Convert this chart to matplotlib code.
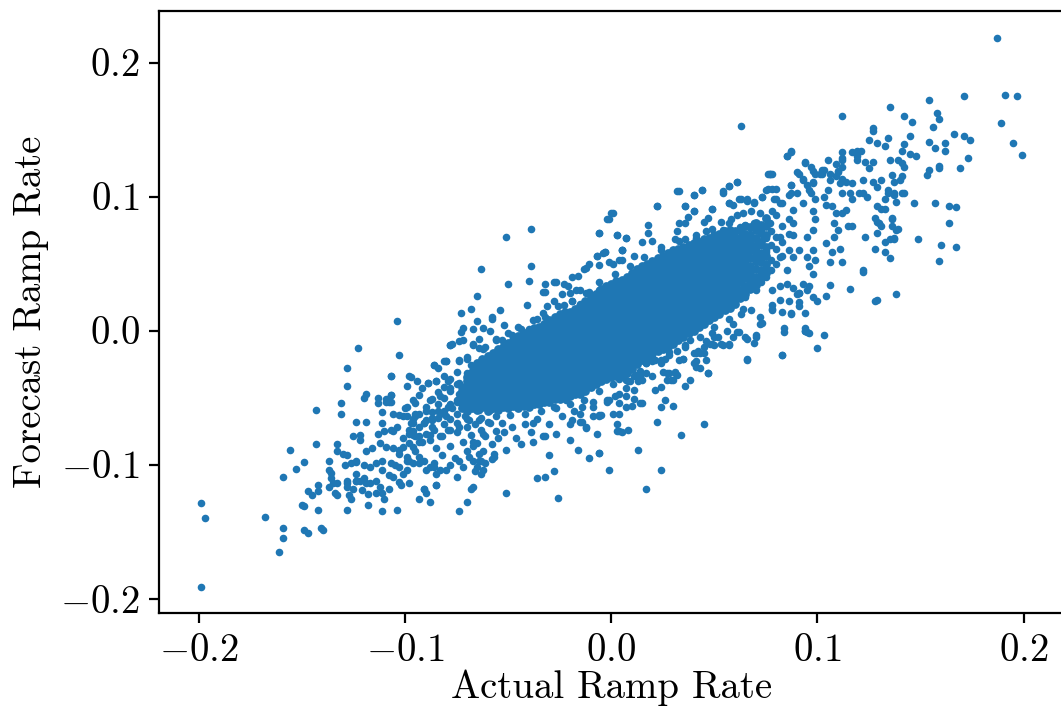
import numpy as np
import matplotlib
matplotlib.use("Agg")
import matplotlib.pyplot as plt

# scattered points (actual, forecast)
outlier_pts = [
    (-0.199, -0.129), (-0.197, -0.140), (-0.199, -0.191), (-0.168, -0.139), (-0.159, -0.147),
    (-0.159, -0.155), (-0.161, -0.165), (-0.149, -0.149), (-0.147, -0.151), (-0.141, -0.147),
    (-0.140, -0.149), (-0.142, -0.134), (-0.150, -0.130), (-0.149, -0.131), (-0.147, -0.120),
    (-0.145, -0.123), (-0.142, -0.120), (-0.142, -0.115), (-0.159, -0.109), (-0.153, -0.103),
    (-0.149, -0.098), (-0.156, -0.089), (-0.143, -0.085), (-0.143, -0.059), (-0.137, -0.097),
    (-0.136, -0.106), (-0.136, -0.110), (-0.133, -0.114), (-0.137, -0.117), (-0.134, -0.121),
    (-0.133, -0.123), (-0.128, -0.134), (-0.128, -0.114), (-0.127, -0.123), (-0.126, -0.126),
    (-0.125, -0.118), (-0.121, -0.119), (-0.118, -0.130), (-0.118, -0.122), (-0.111, -0.135),
    (-0.104, -0.134), (-0.114, -0.121), (-0.111, -0.121), (-0.110, -0.126), (-0.108, -0.118),
    (-0.103, -0.113), (-0.102, -0.115), (-0.133, -0.085), (-0.133, -0.090), (-0.130, -0.092),
    (-0.128, -0.093), (-0.129, -0.100), (-0.126, -0.099), (-0.124, -0.098), (-0.128, -0.112),
    (-0.124, -0.112), (-0.120, -0.110), (-0.125, -0.079), (-0.122, -0.078), (-0.122, -0.082),
    (-0.131, -0.054), (-0.131, -0.062), (-0.128, -0.041), (-0.128, -0.028), (-0.123, -0.013),
    (-0.124, -0.068), (-0.119, -0.068), (-0.120, -0.050), (-0.119, -0.047), (-0.113, -0.050),
    (-0.113, -0.054), (-0.109, -0.053), (-0.107, -0.048), (-0.107, -0.053), (-0.104, 0.007),
    (-0.103, -0.018), (-0.107, -0.034), (-0.097, -0.035), (-0.099, -0.041), (-0.113, -0.077),
    (-0.110, -0.075), (-0.107, -0.074), (-0.104, -0.072), (-0.119, -0.090), (-0.116, -0.088),
    (-0.112, -0.084), (-0.109, -0.087), (-0.106, -0.088), (-0.124, -0.097), (-0.120, -0.100),
    (-0.117, -0.102), (-0.114, -0.099), (-0.111, -0.097), (-0.107, -0.099), (-0.105, -0.100),
    (-0.124, -0.107), (-0.122, -0.112), (-0.117, -0.114), (-0.112, -0.117), (-0.108, -0.108),
    (-0.103, -0.102), (-0.099, -0.104), (-0.096, -0.099), (-0.099, -0.094), (-0.101, -0.087),
    (-0.098, -0.084), (-0.095, -0.079), (-0.099, -0.064), (-0.096, -0.069), (-0.095, -0.062),
    (-0.098, -0.077), (-0.101, -0.080), (-0.093, -0.126), (-0.088, -0.128), (-0.091, -0.118),
    (-0.090, -0.121), (-0.091, -0.097), (-0.086, -0.102), (-0.085, -0.107), (-0.085, -0.115),
    (-0.090, -0.104), (-0.094, -0.038), (-0.089, -0.039), (-0.085, -0.038), (-0.086, -0.026),
    (-0.084, -0.028), (-0.081, -0.023), (-0.078, -0.011), (-0.074, -0.023), (-0.074, -0.135),
    (-0.070, -0.128), (-0.068, -0.118), (-0.073, 0.013), (-0.068, 0.016), (-0.072, 0.002),
    (-0.067, 0.001), (-0.072, -0.007), (-0.066, -0.105), (-0.062, -0.104), (-0.067, -0.097),
    (-0.063, -0.097), (-0.058, -0.096), (-0.051, -0.121), (-0.036, -0.110), (-0.032, -0.109),
    (-0.028, -0.105), (-0.026, -0.125), (-0.011, -0.095), (-0.016, -0.089), (-0.020, -0.082),
    (-0.030, -0.093), (-0.044, -0.085), (-0.038, -0.069), (-0.033, -0.079), (-0.027, -0.077),
    (-0.007, -0.077), (-0.009, -0.064), (-0.014, -0.068), (-0.054, 0.015), (-0.041, 0.019),
    (-0.048, -0.003), (-0.044, 0.001), (-0.040, 0.001),
    (-0.039, 0.076), (-0.051, 0.070), (-0.063, 0.046), (-0.039, 0.048), (-0.040, 0.037),
    (-0.050, 0.035), (-0.065, 0.026), (-0.058, 0.010), (-0.052, 0.004), (-0.032, 0.035),
    (-0.033, 0.029), (-0.027, 0.036), (-0.023, 0.035), (-0.021, 0.033), (-0.019, 0.040),
    (-0.016, 0.041), (-0.013, 0.046), (-0.011, 0.050), (-0.007, 0.056), (-0.006, 0.073),
    (-0.031, 0.018), (-0.028, 0.022), (-0.023, 0.019), (-0.024, 0.027), (-0.020, 0.028),
    (-0.017, 0.030),
    (0.187, 0.218), (0.191, 0.176), (0.197, 0.175), (0.189, 0.155), (0.195, 0.140),
    (0.199, 0.131), (0.171, 0.175), (0.154, 0.172), (0.135, 0.167), (0.158, 0.162),
    (0.159, 0.158), (0.156, 0.152), (0.142, 0.160), (0.146, 0.156), (0.166, 0.147),
    (0.171, 0.145), (0.174, 0.142), (0.173, 0.129), (0.169, 0.121), (0.154, 0.141),
    (0.157, 0.136), (0.162, 0.140), (0.162, 0.134), (0.159, 0.123), (0.159, 0.121),
    (0.154, 0.120), (0.153, 0.116), (0.157, 0.095), (0.164, 0.093), (0.167, 0.092),
    (0.164, 0.080), (0.147, 0.095), (0.149, 0.068), (0.160, 0.064), (0.167, 0.062),
    (0.159, 0.052), (0.145, 0.145), (0.142, 0.139), (0.141, 0.134), (0.145, 0.132),
    (0.148, 0.130), (0.127, 0.151), (0.127, 0.149), (0.125, 0.142), (0.129, 0.140),
    (0.133, 0.138), (0.134, 0.144), (0.112, 0.160), (0.063, 0.153), (0.135, 0.127),
    (0.139, 0.127), (0.141, 0.125), (0.142, 0.122), (0.136, 0.116), (0.137, 0.111),
    (0.141, 0.115), (0.137, 0.103), (0.141, 0.103), (0.138, 0.096), (0.133, 0.098),
    (0.134, 0.103), (0.131, 0.091), (0.129, 0.081), (0.131, 0.078), (0.136, 0.083),
    (0.136, 0.078), (0.139, 0.076), (0.135, 0.068), (0.137, 0.068), (0.133, 0.066),
    (0.128, 0.061), (0.133, 0.059), (0.135, 0.054), (0.128, 0.022), (0.138, 0.027),
    (0.123, 0.070), (0.122, 0.044), (0.116, 0.031),
    (0.112, 0.133), (0.117, 0.133), (0.119, 0.134), (0.121, 0.134), (0.112, 0.127),
    (0.119, 0.127), (0.123, 0.126), (0.127, 0.126), (0.125, 0.121), (0.105, 0.127),
    (0.109, 0.124), (0.110, 0.119), (0.112, 0.122), (0.094, 0.126), (0.090, 0.118),
    (0.098, 0.119), (0.102, 0.120), (0.101, 0.117), (0.087, 0.134), (0.085, 0.130),
    (0.078, 0.117), (0.076, 0.117), (0.073, 0.100), (0.075, 0.105), (0.078, 0.106),
    (0.080, 0.098), (0.083, 0.095), (0.087, 0.103), (0.091, 0.117), (0.093, 0.113),
    (0.098, 0.110), (0.102, 0.117), (0.106, 0.117), (0.109, 0.115), (0.111, 0.110),
    (0.114, 0.111), (0.117, 0.110), (0.112, 0.103), (0.116, 0.103), (0.117, 0.098),
    (0.122, 0.103),
    (0.033, 0.104), (0.040, 0.101), (0.044, 0.105), (0.057, 0.108), (0.054, 0.103),
    (0.061, 0.111), (0.057, 0.095), (0.062, 0.098), (0.066, 0.097), (0.069, 0.095),
    (0.022, 0.093), (0.001, 0.088), (-0.001, 0.083), (0.003, 0.071), (0.007, 0.069),
    (-0.003, 0.059), (0.005, 0.060), (0.036, 0.093), (0.040, 0.089), (0.049, 0.091),
    (0.098, 0.042), (0.106, 0.034), (0.100, 0.022), (0.104, 0.026), (0.093, 0.035),
    (0.096, 0.033), (0.091, 0.028), (0.091, 0.021), (0.094, 0.013), (0.087, 0.012),
    (0.083, 0.014), (0.078, 0.016), (0.073, 0.006), (0.084, 0.002), (0.094, 0.002),
    (0.084, -0.001), (0.094, 0.000), (0.096, -0.002), (0.103, -0.003), (0.100, -0.013),
    (0.083, -0.018), (0.066, -0.022), (0.069, -0.009), (0.070, -0.005), (0.065, -0.005),
    (0.061, -0.001), (0.057, -0.011), (0.053, -0.010), (0.050, -0.011), (0.048, -0.010),
    (0.043, -0.017), (0.040, -0.017), (0.041, -0.023), (0.043, -0.028), (0.047, -0.032),
    (0.035, -0.021), (0.036, -0.041), (0.030, -0.056), (0.026, -0.052), (0.024, -0.057),
    (0.029, -0.037), (0.031, -0.032), (0.021, -0.044), (0.022, -0.068), (0.045, -0.070),
    (0.034, -0.078), (0.013, -0.089), (0.024, -0.104), (0.017, -0.118), (-0.001, -0.104),
    (-0.006, -0.091), (0.003, -0.070), (0.004, -0.062), (0.005, -0.076), (0.003, -0.075),
    (0.010, -0.056), (0.015, -0.054), (0.015, -0.037), (0.013, -0.038), (0.009, -0.038),
    (-0.002, -0.053), (-0.006, -0.063), (0.020, -0.023), (0.026, -0.021), (0.032, -0.015),
    (0.038, -0.007), (0.025, -0.031), (0.028, -0.032), (0.032, -0.033), (0.007, -0.043),
    (0.007, -0.049), (0.011, -0.051), (0.002, -0.049), (0.004, -0.036), (0.017, -0.032),
    (0.012, -0.033),
    (0.119, 0.130), (0.112, 0.129), (0.110, 0.118), (0.112, 0.113), (0.106, 0.112),
    (0.105, 0.105), (0.103, 0.100), (0.098, 0.111), (0.097, 0.122), (0.103, 0.120),
    (0.087, 0.109), (0.086, 0.101), (0.077, 0.117), (0.093, 0.112), (0.096, 0.105),
    (0.099, 0.098), (0.104, 0.094), (0.107, 0.093), (0.109, 0.088), (0.114, 0.090),
    (0.120, 0.103), (0.124, 0.100), (0.122, 0.112), (0.127, 0.111), (0.129, 0.107),
    (0.131, 0.112), (0.140, 0.112), (0.142, 0.103), (0.137, 0.101), (0.134, 0.105),
    (0.133, 0.091), (0.129, 0.093), (0.128, 0.084), (0.130, 0.080), (0.129, 0.073),
    (0.137, 0.069), (0.136, 0.084), (0.138, 0.075), (0.117, 0.078), (0.115, 0.078),
    (0.112, 0.088), (0.110, 0.075), (0.108, 0.080), (0.108, 0.070), (0.104, 0.065),
    (0.107, 0.059), (0.111, 0.061), (0.106, 0.051), (0.112, 0.051), (0.090, 0.027),
    (0.122, 0.045), (0.129, 0.023),
    (-0.032, 0.029), (-0.028, 0.036), (-0.004, 0.058), (-0.001, 0.051), (0.004, 0.053),
    (0.005, 0.060), (-0.015, 0.030), (-0.011, 0.029), (-0.006, 0.030), (-0.019, 0.022),
    (-0.015, 0.020), (-0.009, 0.023),
    (-0.065, 0.007), (-0.062, 0.002), (-0.058, 0.009), (-0.059, 0.000), (-0.064, -0.006),
    (-0.073, -0.001), (-0.077, -0.010), (-0.074, -0.008), (-0.067, -0.011), (-0.064, -0.013),
    (-0.061, -0.012), (-0.056, -0.007), (-0.053, -0.007), (-0.036, -0.002), (-0.032, 0.000),
    (-0.032, 0.010), (-0.036, 0.009),
    (-0.092, -0.043), (-0.080, -0.023), (-0.070, -0.021), (-0.079, -0.038), (-0.078, -0.043),
    (-0.074, -0.047), (-0.069, -0.039), (-0.083, -0.049), (-0.088, -0.052), (-0.095, -0.054),
    (-0.100, -0.058), (-0.106, -0.062), (-0.109, -0.051), (-0.111, -0.069), (-0.106, -0.075),
    (-0.101, -0.064), (-0.097, -0.069), (-0.096, -0.078), (-0.091, -0.069), (-0.086, -0.074),
    (-0.082, -0.079), (-0.079, -0.074), (-0.075, -0.069), (-0.071, -0.064), (-0.067, -0.057),
    (-0.064, -0.067), (-0.059, -0.059), (-0.072, -0.083), (-0.065, -0.084), (-0.061, -0.079),
    (-0.056, -0.075), (-0.053, -0.069), (-0.103, -0.089), (-0.099, -0.097), (-0.093, -0.094),
    (-0.086, -0.099), (-0.080, -0.104), (-0.072, -0.102), (-0.064, -0.097), (-0.057, -0.092),
    (-0.051, -0.089), (-0.038, -0.083), (-0.032, -0.079),
    (-0.006, -0.091), (0.004, -0.075), (0.008, -0.074), (-0.015, -0.068), (-0.012, -0.073),
    (-0.005, -0.063), (-0.001, -0.052), (0.004, -0.054), (-0.014, -0.057), (-0.009, -0.053),
    (-0.090, -0.060), (-0.087, -0.065), (-0.084, -0.060), (-0.080, -0.064), (-0.077, -0.058),
    (-0.075, -0.076), (-0.070, -0.072), (-0.068, -0.078), (-0.066, -0.070), (-0.063, -0.074),
    (-0.060, -0.068), (-0.058, -0.085), (-0.055, -0.080), (-0.052, -0.076), (-0.048, -0.072),
    (-0.046, -0.080), (-0.042, -0.070), (-0.039, -0.076), (-0.036, -0.066), (-0.030, -0.070),
    (-0.024, -0.064), (-0.020, -0.070), (-0.018, -0.060), (-0.085, -0.088), (-0.082, -0.093),
    (-0.078, -0.086), (-0.076, -0.095), (-0.070, -0.090), (-0.067, -0.086), (-0.062, -0.090),
    (-0.092, -0.083), (-0.088, -0.078), (-0.095, -0.090),
    (0.000, 0.088), (-0.002, 0.083), (-0.006, 0.073), (0.003, 0.071), (0.007, 0.069),
    (0.005, 0.060), (-0.007, 0.056), (-0.003, 0.059), (-0.012, 0.047), (-0.006, 0.049),
    (0.001, 0.050), (0.005, 0.053), (0.011, 0.056), (0.015, 0.066), (0.018, 0.079),
    (0.018, 0.073), (0.020, 0.067), (0.024, 0.060), (0.022, 0.093), (0.032, 0.104),
    (0.040, 0.101), (0.044, 0.105), (0.036, 0.093), (0.040, 0.089), (0.037, 0.085),
    (0.033, 0.080), (0.036, 0.080), (0.032, 0.074), (0.031, 0.068), (0.036, 0.068),
    (0.041, 0.069), (0.045, 0.081), (0.047, 0.084), (0.049, 0.091), (0.054, 0.104),
    (0.057, 0.108), (0.061, 0.111), (0.059, 0.094), (0.057, 0.095), (0.063, 0.098),
    (0.066, 0.098), (0.069, 0.096), (0.068, 0.089), (0.061, 0.086), (0.064, 0.088),
    (0.058, 0.083), (0.054, 0.075), (0.051, 0.070), (0.046, 0.074), (0.053, 0.081),
    (0.073, 0.100), (0.076, 0.106), (0.080, 0.106), (0.077, 0.117), (0.085, 0.130),
    (0.087, 0.133), (0.094, 0.125), (0.087, 0.109), (0.090, 0.103), (0.095, 0.109),
    (0.099, 0.117), (0.097, 0.103), (0.079, 0.098), (0.082, 0.095), (0.088, 0.090),
    (0.093, 0.095), (0.098, 0.089), (0.099, 0.083), (0.098, 0.075), (0.095, 0.070),
    (0.088, 0.071), (0.082, 0.070), (0.078, 0.089), (0.072, 0.088), (0.069, 0.080),
    (0.077, 0.080), (0.074, 0.070), (0.088, 0.080), (0.091, 0.060), (0.095, 0.055),
    (0.098, 0.060), (0.099, 0.053), (0.096, 0.048), (0.088, 0.055), (0.085, 0.045),
    (0.082, 0.055), (0.075, 0.060), (0.072, 0.055),
    (0.098, 0.025), (0.095, 0.030), (0.091, 0.028), (0.088, 0.032), (0.085, 0.035),
    (0.082, 0.033), (0.078, 0.030), (0.091, 0.018), (0.086, 0.022), (0.082, 0.023),
    (0.078, 0.015), (0.072, 0.010), (0.068, 0.015), (0.063, 0.012), (0.059, 0.005),
    (0.056, 0.000), (0.052, -0.005), (0.049, -0.010), (0.045, -0.017), (0.041, -0.027),
    (0.038, -0.037), (0.047, -0.032), (0.054, -0.011), (0.059, -0.005), (0.062, -0.001),
    (0.066, -0.006), (0.070, -0.003), (0.072, 0.005), (0.078, 0.019), (0.087, 0.013),
    (0.094, 0.000), (0.095, -0.001), (0.083, -0.018), (0.066, -0.021), (0.057, -0.010),
    (0.050, -0.005), (0.046, -0.008), (0.042, -0.015), (0.035, -0.021), (0.031, -0.031),
    (0.027, -0.037), (0.024, -0.024), (0.020, -0.018), (0.017, -0.024), (0.014, -0.034),
    (0.007, -0.037),
    (-0.111, -0.061), (-0.108, -0.053), (-0.107, -0.048), (-0.103, -0.063), (-0.099, -0.057),
    (-0.096, -0.052), (-0.093, -0.048), (-0.089, -0.039), (-0.085, -0.038), (-0.081, -0.034),
    (-0.086, -0.026), (-0.080, -0.023), (-0.074, -0.022), (-0.070, -0.020), (-0.078, -0.011),
    (-0.067, -0.010), (-0.098, -0.034), (-0.107, -0.034), (-0.095, -0.064), (-0.091, -0.069),
    (-0.087, -0.067), (-0.083, -0.062), (-0.079, -0.057), (-0.075, -0.053), (-0.070, -0.049),
    (-0.098, -0.074), (-0.093, -0.079), (-0.088, -0.082), (-0.083, -0.079), (-0.078, -0.074),
    (-0.074, -0.072), (-0.103, -0.092), (-0.098, -0.097), (-0.093, -0.099), (-0.088, -0.102),
    (-0.083, -0.104), (-0.078, -0.100), (-0.074, -0.097), (-0.069, -0.094), (-0.064, -0.092),
    (-0.111, -0.104), (-0.106, -0.109), (-0.101, -0.107), (-0.114, -0.112), (-0.119, -0.114),
    (-0.124, -0.112), (-0.128, -0.117), (-0.135, -0.114), (-0.137, -0.104), (-0.098, -0.114),
    (-0.091, -0.118), (-0.085, -0.115), (-0.067, -0.117), (-0.075, -0.109), (-0.065, -0.102),
    (-0.061, -0.099), (-0.063, -0.107), (-0.057, -0.094), (-0.067, -0.083), (-0.062, -0.077),
    (-0.059, -0.069), (-0.069, -0.067), (-0.064, -0.059), (-0.065, -0.047), (-0.061, -0.037),
    (-0.074, -0.039), (-0.070, -0.032), (-0.064, -0.027), (-0.057, -0.020),
    (0.004, -0.027), (0.011, -0.034), (0.017, -0.024), (0.020, -0.017), (0.024, -0.022),
    (0.028, -0.016), (0.033, -0.022), (0.036, -0.012), (0.041, -0.017), (0.045, -0.012),
    (0.049, -0.002), (0.046, -0.022), (0.040, -0.024), (0.027, -0.032), (0.030, -0.037),
    (0.024, -0.042), (0.004, -0.047), (-0.002, -0.052), (0.007, -0.057), (0.014, -0.054),
    (-0.009, -0.057), (-0.015, -0.062), (-0.022, -0.052), (-0.028, -0.057), (-0.019, -0.067),
    (-0.012, -0.072), (-0.006, -0.064), (0.001, -0.062), (0.011, -0.044), (0.020, -0.034),
]

# dense core of the cloud, read as columns of overlapping points
core_x = [
    -0.0725, -0.070, -0.0675, -0.065, -0.0625, -0.060, -0.0575, -0.055, -0.0525, -0.050,
    -0.0475, -0.045, -0.0425, -0.040, -0.0375, -0.035, -0.0325, -0.030, -0.0275, -0.025,
    -0.0225, -0.020, -0.0175, -0.015, -0.0125, -0.010, -0.0075, -0.005, -0.0025, 0.000,
    0.0025, 0.005, 0.0075, 0.010, 0.0125, 0.015, 0.0175, 0.020, 0.0225, 0.025,
    0.0275, 0.030, 0.0325, 0.035, 0.0375, 0.040, 0.0425, 0.045, 0.0475, 0.050,
    0.0525, 0.055, 0.0575, 0.060, 0.0625, 0.065, 0.0675, 0.070, 0.0725, 0.075,
]
core_y = [
    [-0.058, -0.054, -0.049, -0.045, -0.042],
    [-0.060, -0.056, -0.051, -0.047, -0.042, -0.038, -0.035],
    [-0.058, -0.053, -0.049, -0.044, -0.040, -0.035, -0.031],
    [-0.059, -0.055, -0.050, -0.046, -0.041, -0.037, -0.032, -0.028, -0.024],
    [-0.057, -0.052, -0.048, -0.043, -0.039, -0.034, -0.030, -0.025, -0.021],
    [-0.060, -0.055, -0.051, -0.046, -0.042, -0.037, -0.033, -0.028, -0.024, -0.019],
    [-0.058, -0.053, -0.049, -0.044, -0.040, -0.035, -0.031, -0.026, -0.022, -0.017],
    [-0.059, -0.055, -0.050, -0.046, -0.041, -0.037, -0.032, -0.028, -0.023, -0.019, -0.014],
    [-0.057, -0.053, -0.048, -0.044, -0.039, -0.035, -0.030, -0.026, -0.021, -0.017, -0.012],
    [-0.058, -0.054, -0.049, -0.045, -0.040, -0.036, -0.031, -0.027, -0.022, -0.018, -0.013, -0.009],
    [-0.056, -0.051, -0.047, -0.042, -0.038, -0.033, -0.029, -0.024, -0.020, -0.015, -0.011, -0.007],
    [-0.058, -0.053, -0.049, -0.044, -0.040, -0.035, -0.031, -0.026, -0.022, -0.017, -0.013, -0.008, -0.004],
    [-0.056, -0.051, -0.047, -0.042, -0.038, -0.033, -0.029, -0.024, -0.020, -0.015, -0.011, -0.006, -0.002],
    [-0.057, -0.053, -0.048, -0.044, -0.039, -0.035, -0.030, -0.026, -0.021, -0.017, -0.012, -0.008, -0.003, 0.000],
    [-0.055, -0.050, -0.046, -0.041, -0.037, -0.032, -0.028, -0.023, -0.019, -0.014, -0.010, -0.005, -0.001, 0.002],
    [-0.055, -0.051, -0.046, -0.042, -0.037, -0.033, -0.028, -0.024, -0.019, -0.015, -0.010, -0.006, -0.001, 0.003],
    [-0.053, -0.049, -0.044, -0.040, -0.035, -0.031, -0.026, -0.022, -0.017, -0.013, -0.008, -0.004, 0.001, 0.005],
    [-0.053, -0.049, -0.044, -0.040, -0.035, -0.031, -0.026, -0.022, -0.017, -0.013, -0.008, -0.004, 0.001, 0.005, 0.008],
    [-0.051, -0.047, -0.042, -0.038, -0.033, -0.029, -0.024, -0.020, -0.015, -0.011, -0.006, -0.002, 0.003, 0.007, 0.010],
    [-0.051, -0.047, -0.042, -0.038, -0.033, -0.029, -0.024, -0.020, -0.015, -0.011, -0.006, -0.002, 0.003, 0.007, 0.012],
    [-0.049, -0.045, -0.040, -0.036, -0.031, -0.027, -0.022, -0.018, -0.013, -0.009, -0.004, 0.000, 0.005, 0.009, 0.014],
    [-0.049, -0.045, -0.040, -0.036, -0.031, -0.027, -0.022, -0.018, -0.013, -0.009, -0.004, 0.000, 0.005, 0.009, 0.014],
    [-0.047, -0.043, -0.038, -0.034, -0.029, -0.025, -0.020, -0.016, -0.011, -0.007, -0.002, 0.002, 0.007, 0.011, 0.016],
    [-0.047, -0.043, -0.038, -0.034, -0.029, -0.025, -0.020, -0.016, -0.011, -0.007, -0.002, 0.002, 0.007, 0.011, 0.016, 0.018],
    [-0.045, -0.041, -0.036, -0.032, -0.027, -0.023, -0.018, -0.014, -0.009, -0.005, 0.000, 0.004, 0.009, 0.013, 0.018, 0.022],
    [-0.042, -0.038, -0.033, -0.029, -0.024, -0.020, -0.015, -0.011, -0.006, -0.002, 0.003, 0.007, 0.012, 0.016, 0.021, 0.025],
    [-0.040, -0.036, -0.031, -0.027, -0.022, -0.018, -0.013, -0.009, -0.004, 0.000, 0.005, 0.009, 0.014, 0.018, 0.023, 0.027],
    [-0.038, -0.034, -0.029, -0.025, -0.020, -0.016, -0.011, -0.007, -0.002, 0.002, 0.007, 0.011, 0.016, 0.020, 0.025, 0.029, 0.031],
    [-0.036, -0.032, -0.027, -0.023, -0.018, -0.014, -0.009, -0.005, 0.000, 0.004, 0.009, 0.013, 0.018, 0.022, 0.027, 0.031, 0.033],
    [-0.035, -0.031, -0.026, -0.022, -0.017, -0.013, -0.008, -0.004, 0.001, 0.005, 0.010, 0.014, 0.019, 0.023, 0.028, 0.032, 0.035],
    [-0.034, -0.030, -0.025, -0.021, -0.016, -0.012, -0.007, -0.003, 0.002, 0.006, 0.011, 0.015, 0.020, 0.024, 0.029, 0.033, 0.037],
    [-0.033, -0.029, -0.024, -0.020, -0.015, -0.011, -0.006, -0.002, 0.003, 0.007, 0.012, 0.016, 0.021, 0.025, 0.030, 0.034, 0.038],
    [-0.032, -0.028, -0.023, -0.019, -0.014, -0.010, -0.005, -0.001, 0.004, 0.008, 0.013, 0.017, 0.022, 0.026, 0.031, 0.035, 0.040],
    [-0.029, -0.025, -0.020, -0.016, -0.011, -0.007, -0.002, 0.002, 0.007, 0.011, 0.016, 0.020, 0.025, 0.029, 0.034, 0.038, 0.043],
    [-0.025, -0.021, -0.016, -0.012, -0.007, -0.003, 0.002, 0.006, 0.011, 0.015, 0.020, 0.024, 0.029, 0.033, 0.038, 0.042, 0.046],
    [-0.022, -0.018, -0.013, -0.009, -0.004, 0.000, 0.005, 0.009, 0.014, 0.018, 0.023, 0.027, 0.032, 0.036, 0.041, 0.045, 0.048],
    [-0.020, -0.016, -0.011, -0.007, -0.002, 0.002, 0.007, 0.011, 0.016, 0.020, 0.025, 0.029, 0.034, 0.038, 0.043, 0.047, 0.050],
    [-0.017, -0.013, -0.008, -0.004, 0.001, 0.005, 0.010, 0.014, 0.019, 0.023, 0.028, 0.032, 0.037, 0.041, 0.046, 0.050, 0.052],
    [-0.015, -0.011, -0.006, -0.002, 0.003, 0.007, 0.012, 0.016, 0.021, 0.025, 0.030, 0.034, 0.039, 0.043, 0.048, 0.052, 0.054],
    [-0.014, -0.010, -0.005, -0.001, 0.004, 0.008, 0.013, 0.017, 0.022, 0.026, 0.031, 0.035, 0.040, 0.044, 0.049, 0.053, 0.056],
    [-0.012, -0.008, -0.003, 0.001, 0.006, 0.010, 0.015, 0.019, 0.024, 0.028, 0.033, 0.037, 0.042, 0.046, 0.051, 0.055, 0.058],
    [-0.010, -0.006, -0.001, 0.003, 0.008, 0.012, 0.017, 0.021, 0.026, 0.030, 0.035, 0.039, 0.044, 0.048, 0.053, 0.057, 0.060],
    [-0.007, -0.003, 0.002, 0.006, 0.011, 0.015, 0.020, 0.024, 0.029, 0.033, 0.038, 0.042, 0.047, 0.051, 0.056, 0.061],
    [-0.005, -0.001, 0.004, 0.008, 0.013, 0.017, 0.022, 0.026, 0.031, 0.035, 0.040, 0.044, 0.049, 0.053, 0.058, 0.062],
    [-0.002, 0.002, 0.007, 0.011, 0.016, 0.020, 0.025, 0.029, 0.034, 0.038, 0.043, 0.047, 0.052, 0.056, 0.061, 0.064],
    [0.000, 0.004, 0.009, 0.013, 0.018, 0.022, 0.027, 0.031, 0.036, 0.040, 0.045, 0.049, 0.054, 0.058, 0.063, 0.065],
    [0.003, 0.007, 0.012, 0.016, 0.021, 0.025, 0.030, 0.034, 0.039, 0.043, 0.048, 0.052, 0.057, 0.061, 0.066],
    [0.005, 0.009, 0.014, 0.018, 0.023, 0.027, 0.032, 0.036, 0.041, 0.045, 0.050, 0.054, 0.059, 0.063, 0.068],
    [0.008, 0.012, 0.017, 0.021, 0.026, 0.030, 0.035, 0.039, 0.044, 0.048, 0.053, 0.057, 0.062, 0.066, 0.069],
    [0.010, 0.014, 0.019, 0.023, 0.028, 0.032, 0.037, 0.041, 0.046, 0.050, 0.055, 0.059, 0.064, 0.068, 0.071],
    [0.012, 0.016, 0.021, 0.025, 0.030, 0.034, 0.039, 0.043, 0.048, 0.052, 0.057, 0.061, 0.066, 0.070, 0.072],
    [0.015, 0.019, 0.024, 0.028, 0.033, 0.037, 0.042, 0.046, 0.051, 0.055, 0.060, 0.064, 0.069, 0.074],
    [0.017, 0.021, 0.026, 0.030, 0.035, 0.039, 0.044, 0.048, 0.053, 0.057, 0.062, 0.066, 0.071, 0.075],
    [0.020, 0.024, 0.029, 0.033, 0.038, 0.042, 0.047, 0.051, 0.056, 0.060, 0.065, 0.069, 0.074],
    [0.024, 0.030, 0.036, 0.041, 0.047, 0.052, 0.058, 0.064, 0.069, 0.075],
    [0.027, 0.033, 0.039, 0.044, 0.050, 0.055, 0.061, 0.067, 0.072, 0.078],
    [0.031, 0.037, 0.043, 0.048, 0.054, 0.060, 0.066, 0.071, 0.077],
    [0.034, 0.040, 0.046, 0.052, 0.057, 0.063, 0.069, 0.075, 0.080],
    [0.039, 0.045, 0.051, 0.058, 0.066, 0.073, 0.079],
    [0.043, 0.050, 0.056, 0.062, 0.071, 0.078, 0.084],
]

# looser columns at both ends of the core
edge_x = [0.0625, 0.065, 0.0675, 0.070, 0.0725, 0.075, 0.0775, 0.080, 0.083, 0.086,
          -0.075, -0.078, -0.081, -0.084, -0.087, -0.090, -0.093, -0.096]
edge_y = [
    [0.028, 0.036, 0.045, 0.053, 0.062, 0.070, 0.077],
    [0.025, 0.032, 0.041, 0.049, 0.058, 0.066, 0.079],
    [0.033, 0.040, 0.047, 0.055, 0.063, 0.072],
    [0.030, 0.038, 0.051, 0.060, 0.068, 0.080],
    [0.036, 0.044, 0.056, 0.064, 0.075],
    [0.040, 0.048, 0.059, 0.069, 0.083],
    [0.045, 0.053, 0.064, 0.074],
    [0.050, 0.061, 0.070, 0.086],
    [0.056, 0.066, 0.078],
    [0.060, 0.072, 0.083],
    [-0.062, -0.052, -0.040, -0.031],
    [-0.066, -0.055, -0.045, -0.036],
    [-0.070, -0.060, -0.050, -0.042],
    [-0.065, -0.055, -0.046],
    [-0.072, -0.061, -0.051],
    [-0.067, -0.057, -0.077],
    [-0.072, -0.062, -0.083],
    [-0.066, -0.087, -0.075],
]

# points hugging the upper and lower edge of the core
fringe_x = [-0.068, -0.062, -0.056, -0.050, -0.045, -0.038, -0.033, -0.026, -0.019, -0.012,
            -0.006, 0.002, 0.009, 0.016, 0.024, 0.033, 0.041, 0.049, 0.057,
            -0.070, -0.063, -0.056, -0.049, -0.042, -0.034, -0.027, -0.020, -0.013, -0.006,
            0.001, 0.008, 0.014, 0.021, 0.028, 0.036, 0.043, 0.050, 0.057, 0.064]
fringe_y = [-0.026, -0.014, -0.006, -0.002, 0.003, 0.008, 0.013, 0.018, 0.022, 0.028,
            0.036, 0.042, 0.048, 0.055, 0.062, 0.067, 0.071, 0.076, 0.080,
            -0.066, -0.065, -0.064, -0.063, -0.062, -0.060, -0.058, -0.055, -0.052, -0.045,
            -0.040, -0.038, -0.030, -0.022, -0.018, -0.011, -0.005, 0.003, 0.009, 0.016]

xticks = [-0.2, -0.1, 0.0, 0.1, 0.2]
yticks = [-0.2, -0.1, 0.0, 0.1, 0.2]

plt.rcParams.update({
    "font.family": "serif",
    "font.serif": ["cmr10"],
    "mathtext.fontset": "cm",
    "axes.formatter.use_mathtext": True,
    "font.size": 28,
    "axes.linewidth": 1.6,
    "xtick.major.width": 1.6,
    "ytick.major.width": 1.6,
    "xtick.major.size": 7,
    "ytick.major.size": 7,
    "xtick.major.pad": 7,
    "ytick.major.pad": 7,
})

xs = [p[0] for p in outlier_pts] + fringe_x
ys = [p[1] for p in outlier_pts] + fringe_y
for cx, col in zip(edge_x, edge_y):
    xs += [cx] * len(col)
    ys += list(col)

cxs, cys = [], []
for cx, col in zip(core_x, core_y):
    cxs += [cx] * len(col)
    cys += list(col)

fig = plt.figure(figsize=(10.61, 7.13), dpi=100)
ax = fig.add_axes([0.1501, 0.1398, 0.852, 0.8452])
# overlapping core points, drawn a touch larger so the blob closes up
ax.scatter(cxs, cys, s=40, color="#1f77b4", linewidths=0)
ax.scatter(xs, ys, s=30, color="#1f77b4", linewidths=0)

ax.set_xlim(-0.2192, 0.2192)
ax.set_ylim(-0.2110, 0.2387)
ax.set_xticks(xticks)
ax.set_yticks(yticks)
ax.set_xlabel("Actual Ramp Rate", labelpad=1)
ax.set_ylabel("Forecast Ramp Rate", labelpad=8)

fig.savefig("out.png", dpi=100)
